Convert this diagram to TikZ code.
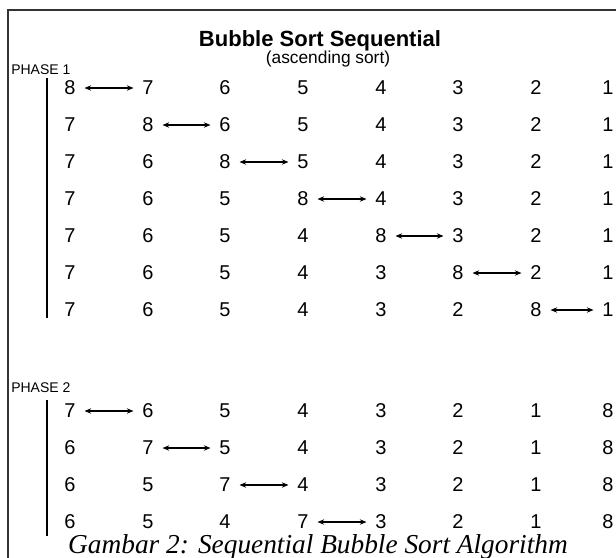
\documentclass[tikz,border=0pt]{standalone}
\usepackage{fontspec}
\setmainfont{Liberation Sans}
\newfontfamily\capfont{Liberation Serif}
\usetikzlibrary{arrows.meta}
\tikzset{
  num/.style={font=\fontsize{15}{15}\selectfont, inner sep=0pt, anchor=center},
  swap/.style={{Stealth[length=5pt,width=4pt]}-{Stealth[length=5pt,width=4pt]}, line width=0.8pt, shorten <=6.5pt, shorten >=6.5pt},
  bar/.style={line width=2pt},
  phase/.style={font=\fontsize{10.5}{10.5}\selectfont, inner sep=0pt, anchor=west},
}
\begin{document}
\begin{tikzpicture}[x=0.75pt,y=-0.75pt]
\useasboundingbox (0,0) rectangle (616,557);
\draw[line width=1.2pt, black!80] (8,560) -- (8,10) -- (620,10);
\node[font=\bfseries\fontsize{16.5}{16.5}\selectfont, inner sep=0pt] (title) at (320,41) {Bubble Sort Sequential};
\node[font=\fontsize{13}{13}\selectfont, inner sep=0pt] (sub) at (328,59) {(ascending sort)};
\node[phase] (p1) at (11,70) {PHASE 1};
\node[phase] (p2) at (11,388) {PHASE 2};
\coordinate (b1t) at (47,78); \coordinate (b1b) at (47,318);
\coordinate (b2t) at (47,400); \coordinate (b2b) at (47,536);
\draw[bar] (b1t) -- (b1b);
\draw[bar] (b2t) -- (b2b);
\def\xs{{70,148,225,303,381,458,536,608}}
\foreach \row/\y/\vals/\sw in {
  1/88/{8,7,6,5,4,3,2,1}/1,
  2/125/{7,8,6,5,4,3,2,1}/2,
  3/162/{7,6,8,5,4,3,2,1}/3,
  4/199/{7,6,5,8,4,3,2,1}/4,
  5/236/{7,6,5,4,8,3,2,1}/5,
  6/273/{7,6,5,4,3,8,2,1}/6,
  7/310/{7,6,5,4,3,2,8,1}/7,
  8/411/{7,6,5,4,3,2,1,8}/1,
  9/448/{6,7,5,4,3,2,1,8}/2,
  10/485/{6,5,7,4,3,2,1,8}/3,
  11/522/{6,5,4,7,3,2,1,8}/4}{
  \foreach \v [count=\c] in \vals {
    \pgfmathsetmacro\xx{\xs[\c-1]}
    \node[num] (n\row-\c) at (\xx,\y) {\v};
  }
  \pgfmathtruncatemacro\nx{\sw+1}
  \draw[swap] (n\row-\sw.east) -- (n\row-\nx.west);
}
\node[font=\capfont\itshape\fontsize{20.5}{20.5}\selectfont, inner sep=0pt, anchor=base] (cap) at (318,553) {Gambar 2: Sequential Bubble Sort Algorithm};
\end{tikzpicture}
\end{document}
